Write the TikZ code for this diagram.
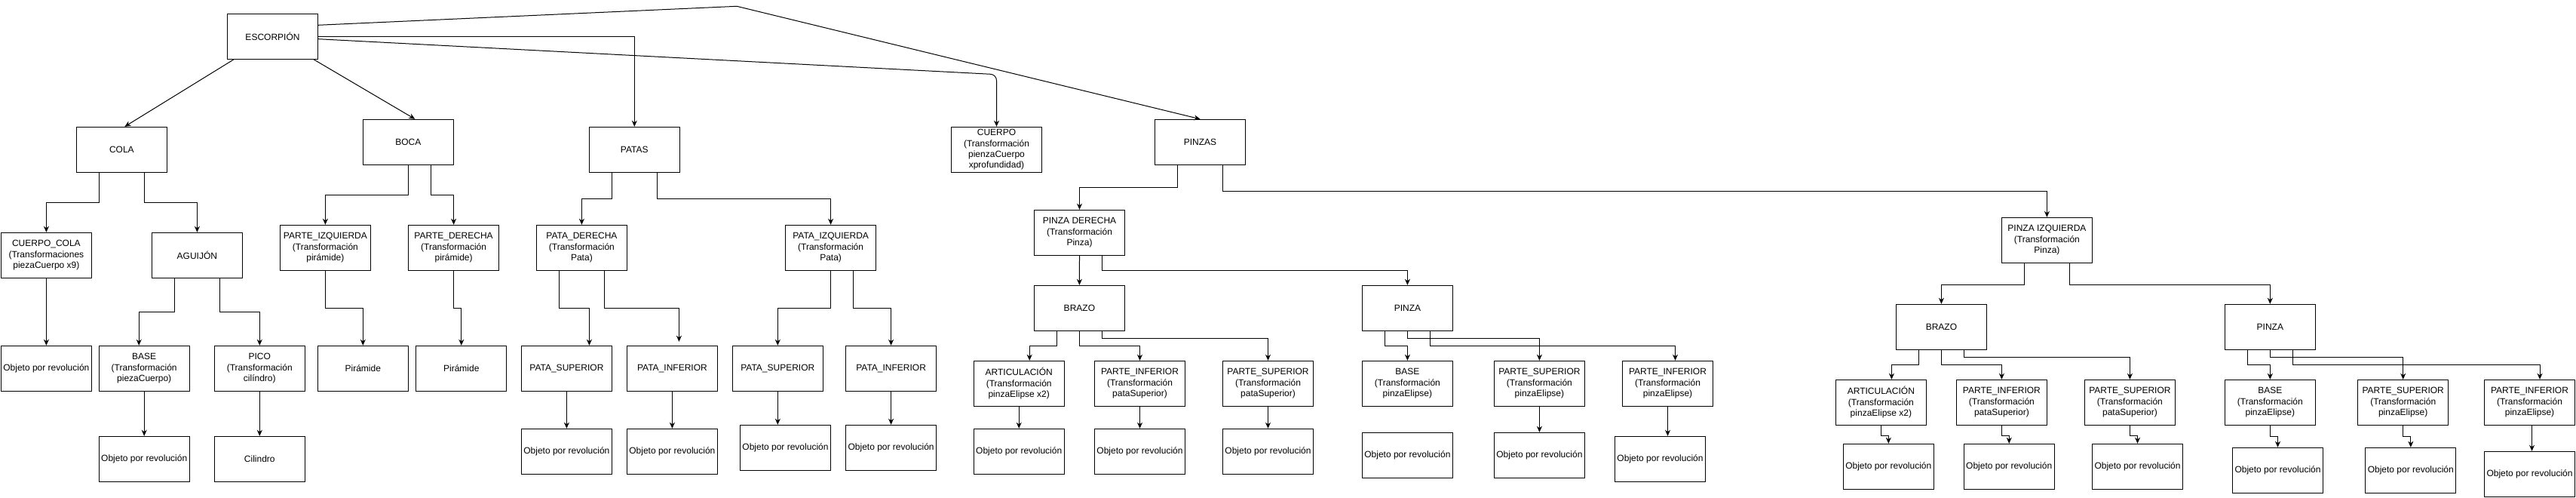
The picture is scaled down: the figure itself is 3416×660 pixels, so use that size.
\documentclass[tikz,border=0pt]{standalone}
\usepackage{fontspec}
\setmainfont{Liberation Sans}
\usetikzlibrary{arrows.meta}
\begin{document}
\begin{tikzpicture}[x=1pt,y=-1pt,
  box/.style={draw, line width=1pt, minimum width=120pt, minimum height=60pt, inner sep=0pt, align=center, font=\fontsize{12pt}{14.4pt}\selectfont},
  arr/.style={-{Stealth[length=8pt,width=7pt,inset=2.5pt]}, line width=1pt}]
\fill[white] (0,0) rectangle (3416,660);
\useasboundingbox (0,0) rectangle (3416,660);
% level 0/1
\node[box] (esc) at (361.5,48.3) {ESCORPIÓN};
\node[box] (cola) at (161.4,198.3) {COLA};
\node[box] (boca) at (541.3,188.3) {BOCA};
\node[box] (patas) at (841.3,198.3) {PATAS};
\node[box] (cuerpo) at (1321.5,198.3) {CUERPO\\(Transformación\\pienzaCuerpo\\xprofundidad)};
\node[box] (pinzas) at (1591.5,188.3) {PINZAS};
% level 2
\node[box] (cc) at (61.4,338.3) {CUERPO\_COLA\\(Transformaciones\\piezaCuerpo x9)};
\node[box] (agu) at (261.4,338.3) {AGUIJÓN};
\node[box] (pizq) at (431.4,328.3) {PARTE\_IZQUIERDA\\(Transformación\\pirámide)};
\node[box] (pder) at (601.6,328.3) {PARTE\_DERECHA\\(Transformación\\pirámide)};
\node[box] (patder) at (771.4,328.3) {PATA\_DERECHA\\(Transformación\\Pata)};
\node[box] (patizq) at (1101.6,328.3) {PATA\_IZQUIERDA\\(Transformación\\Pata)};
\node[box] (pinder) at (1431.5,308.3) {PINZA DERECHA\\(Transformación\\Pinza)};
\node[box] (pinizq) at (2714.4,318.3) {PINZA IZQUIERDA\\(Transformación\\Pinza)};
% level 3 left
\node[box] (obj1) at (61.4,488.3) {Objeto por revolución};
\node[box] (base1) at (191.2,488.3) {BASE\\(Transformación\\piezaCuerpo)};
\node[box] (pico) at (344.3,488.3) {PICO\\(Transformación\\cilíndro)};
\node[box] (pir1) at (481.3,488.3) {Pirámide};
\node[box] (pir2) at (611.8,488.3) {Pirámide};
\node[box] (ps1) at (751.4,488.3) {PATA\_SUPERIOR};
\node[box] (pi1) at (891.4,488.3) {PATA\_INFERIOR};
\node[box] (ps2) at (1031.3,488.3) {PATA\_SUPERIOR};
\node[box] (pi2) at (1181.6,488.3) {PATA\_INFERIOR};
\node[box] (obj2) at (191.2,608.3) {Objeto por revolución};
\node[box] (cil) at (344.3,608.3) {Cilindro};
\node[box] (obj3) at (751.4,598.3) {Objeto por revolución};
\node[box] (obj4) at (891.4,598.3) {Objeto por revolución};
\node[box] (obj5) at (1041.5,593.3) {Objeto por revolución};
\node[box] (obj6) at (1181.6,593.3) {Objeto por revolución};
% pinza derecha subtree
\node[box] (brazoA) at (1431.4,408.3) {BRAZO};
\node[box] (pinzaA) at (1866.4,408.3) {PINZA};
\node[box] (artA) at (1351.2,508.3) {ARTICULACIÓN\\(Transformación\\pinzaElipse x2)};
\node[box] (pinfA) at (1511.5,508.3) {PARTE\_INFERIOR\\(Transformación\\pataSuperior)};
\node[box] (psupA) at (1681.5,508.3) {PARTE\_SUPERIOR\\(Transformación\\pataSuperior)};
\node[box] (objartA) at (1351.2,598.3) {Objeto por revolución};
\node[box] (objpinfA) at (1511.5,598.3) {Objeto por revolución};
\node[box] (objpsupA) at (1681.5,598.3) {Objeto por revolución};
\node[box] (baseA) at (1866.4,508.3) {BASE\\(Transformación\\pinzaElipse)};
\node[box] (psupA2) at (2041.4,508.3) {PARTE\_SUPERIOR\\(Transformación\\pinzaElipse)};
\node[box] (pinfA2) at (2211.5,508.3) {PARTE\_INFERIOR\\(Transformación\\pinzaElipse)};
\node[box] (objbaseA) at (1866.4,603.3) {Objeto por revolución};
\node[box] (objpsupA2) at (2041.4,603.3) {Objeto por revolución};
\node[box] (objpinfA2) at (2201.5,608.3) {Objeto por revolución};
% pinza izquierda subtree
\node[box] (brazoB) at (2574.4,433.3) {BRAZO};
\node[box] (pinzaB) at (3010.3,433.3) {PINZA};
\node[box] (artB) at (2494.4,533.3) {ARTICULACIÓN\\(Transformación\\pinzaElipse x2)};
\node[box] (pinfB) at (2654.4,533.3) {PARTE\_INFERIOR\\(Transformación\\pataSuperior)};
\node[box] (psupB) at (2824.4,533.3) {PARTE\_SUPERIOR\\(Transformación\\pataSuperior)};
\node[box] (objartB) at (2504.3,618.3) {Objeto por revolución};
\node[box] (objpinfB) at (2664.2,618.3) {Objeto por revolución};
\node[box] (objpsupB) at (2834.5,618.3) {Objeto por revolución};
\node[box] (baseB) at (3010.3,533.3) {BASE\\(Transformación\\pinzaElipse)};
\node[box] (psupB2) at (3186.7,533.3) {PARTE\_SUPERIOR\\(Transformación\\pinzaElipse)};
\node[box] (pinfB2) at (3354.5,533.3) {PARTE\_INFERIOR\\(Transformación\\pinzaElipse)};
\node[box] (objbaseB) at (3020.5,623.3) {Objeto por revolución};
\node[box] (objpsupB2) at (3196.8,623.3) {Objeto por revolución};
\node[box] (objpinfB2) at (3354.5,628.3) {Objeto por revolución};
% waypoints
\coordinate (wp1) at (977.1,8.3);
\coordinate (wp2) at (1321.5,98.7);
% edges from root
\draw[arr] ([xshift=9pt]esc.south west) -- ([xshift=4pt]cola.north);
\draw[arr] ([xshift=-6pt]esc.south east) -- ([xshift=9pt]boca.north);
\draw[arr] ([yshift=15pt]esc.east) -- (wp1) -- (pinzas.north);
\draw[arr] (esc.east) -| (patas.north);
\draw[arr, rounded corners=8pt] ([yshift=-3.4pt]esc.east) -- (wp2) -- (cuerpo.north);
% cola
\draw[arr] ([xshift=-30pt]cola.south) -- ++(0,40) -| (cc.north);
\draw[arr] ([xshift=30pt]cola.south) -- ++(0,40) -| (agu.north);
\draw[arr] (cc.south) -- (obj1.north);
\draw[arr] ([xshift=-30pt]agu.south) -- ++(0,45) -| ([xshift=-7pt]base1.north);
\draw[arr] ([xshift=30pt]agu.south) -- ++(0,45) -| (pico.north);
\draw[arr] (base1.south) -- (obj2.north);
\draw[arr] (pico.south) -- (cil.north);
% boca
\draw[arr] (boca.south) -- ++(0,40) -| (pizq.north);
\draw[arr] ([xshift=30pt]boca.south) -- ++(0,40) -| (pder.north);
\draw[arr] (pizq.south) -- ++(0,50) -| (pir1.north);
\draw[arr] (pder.south) -- ++(0,50) -| (pir2.north);
% patas
\draw[arr] ([xshift=-30pt]patas.south) -- ++(0,35) -| (patder.north);
\draw[arr] ([xshift=30pt]patas.south) -- ++(0,35) -| (patizq.north);
\draw[arr] ([xshift=-30pt]patder.south) -- ++(0,50) -| ([xshift=30pt]ps1.north);
\draw[arr] ([xshift=30pt]patder.south) -- ++(0,50) -| ([xshift=9pt,yshift=5pt]pi1.north);
\draw[arr] (patizq.south) -- ++(0,50) -| (ps2.north);
\draw[arr] ([xshift=30pt]patizq.south) -- ++(0,50) -| (pi2.north);
\draw[arr] (ps1.south) -- (obj3.north);
\draw[arr] (pi1.south) -- (obj4.north);
\draw[arr] (ps2.south) -- (ps2.south |- obj5.north);
\draw[arr] (pi2.south) -- (obj6.north);
% pinzas
\draw[arr] ([xshift=-30pt]pinzas.south) -- ++(0,30) -| (pinder.north);
\draw[arr] ([xshift=30pt]pinzas.south) -- ++(0,35) -| (pinizq.north);
% pinza derecha
\draw[arr] (pinder.south) -- (brazoA.north);
\draw[arr] ([xshift=30pt]pinder.south) -- ++(0,20) -| (pinzaA.north);
\draw[arr] ([xshift=-30pt]brazoA.south) -- ++(0,20) -| ([xshift=14pt]artA.north);
\draw[arr] (brazoA.south) -- ++(0,20) -| (pinfA.north);
\draw[arr] ([xshift=30pt]brazoA.south) -- ++(0,10) -| (psupA.north);
\draw[arr] (artA.south) -- (objartA.north);
\draw[arr] (pinfA.south) -- (objpinfA.north);
\draw[arr] (psupA.south) -- (objpsupA.north);
\draw[arr] ([xshift=-30pt]pinzaA.south) -- ++(0,20) -| (baseA.north);
\draw[arr] (pinzaA.south) -- ++(0,10) -| (psupA2.north);
\draw[arr] ([xshift=30pt]pinzaA.south) -- ++(0,20) -| ([xshift=10pt]pinfA2.north);
\draw[arr] (psupA2.south) -- (objpsupA2.north);
\draw[arr] (pinfA2.south) -- (pinfA2.south |- objpinfA2.north);
% pinza izquierda
\draw[arr] ([xshift=-30pt]pinizq.south) -- ++(0,28.4) -| (brazoB.north);
\draw[arr] ([xshift=30pt]pinizq.south) -- ++(0,28.4) -| (pinzaB.north);
\draw[arr] ([xshift=-30pt]brazoB.south) -- ++(0,20) -| ([xshift=14pt]artB.north);
\draw[arr] (brazoB.south) -- ++(0,20) -| (pinfB.north);
\draw[arr] ([xshift=30pt]brazoB.south) -- ++(0,10) -| (psupB.north);
\draw[arr] (artB.south) -- ++(0,13.4) -| (objartB.north);
\draw[arr] (pinfB.south) -- ++(0,13.4) -| (objpinfB.north);
\draw[arr] (psupB.south) -- ++(0,13.4) -| (objpsupB.north);
\draw[arr] ([xshift=-30pt]pinzaB.south) -- ++(0,20) -| (baseB.north);
\draw[arr] (pinzaB.south) -- ++(0,10) -| (psupB2.north);
\draw[arr] ([xshift=30pt]pinzaB.south) -- ++(0,20) -| ([xshift=13.5pt]pinfB2.north);
\draw[arr] (baseB.south) -- ++(0,15) -| (objbaseB.north);
\draw[arr] (psupB2.south) -- ++(0,15) -| (objpsupB2.north);
\draw[arr] ([xshift=3pt]pinfB2.south) -- ([xshift=3pt]objpinfB2.north);
\end{tikzpicture}
\end{document}
